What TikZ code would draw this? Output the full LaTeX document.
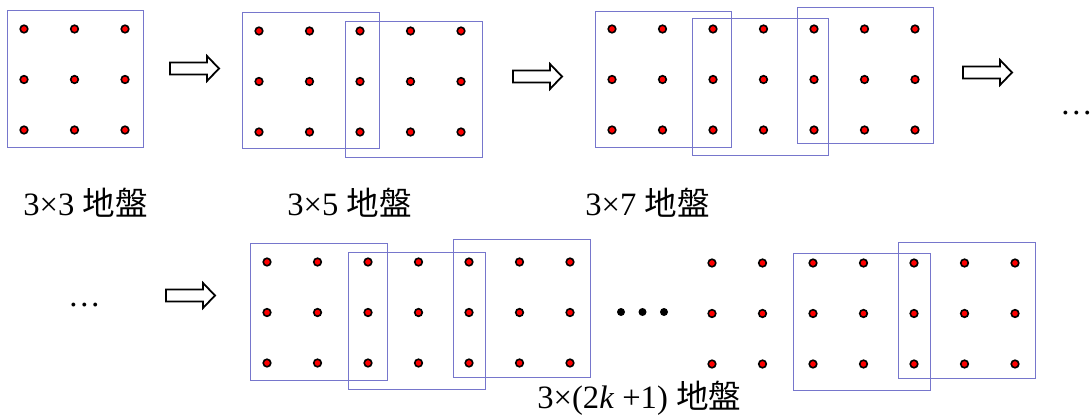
\documentclass[tikz,border=0pt]{standalone}
\usepackage{fontspec}
\setmainfont{Liberation Serif}
\newfontfamily\cjk{Noto Sans CJK TC}
\usetikzlibrary{positioning}

\begin{document}
\begin{tikzpicture}[
    x=0.5pt, y=-0.5pt,
    every node/.style={font=\fontsize{16.3}{19}\selectfont, inner sep=0pt},
  ]
    \definecolor{sitered}{HTML}{FF0000}
    \definecolor{winblue}{HTML}{7676CC}
    \tikzset{
      site/.style={fill=sitered, draw=black, line width=0.8pt},
      win/.style={draw=winblue, line width=0.45pt},
      blockarrow/.style={draw=black, fill=white, line width=0.9pt, line join=miter},
    }

    \newcommand{\sites}[3]{%
      \foreach \i in {0,...,#3}{
        \foreach \j in {0,1,2}{
          \filldraw[site] (#1+50.5*\i, #2+50.5*\j) circle[radius=1.9pt];
        }
      }
    }
    \newcommand{\fatarrow}[2]{%
      \draw[blockarrow] (#1,#2) ++(0,-6) -- ++(37,0) -- ++(0,-6.5) -- ++(12,12.5)
        -- ++(-12,12.5) -- ++(0,-6.5) -- ++(-37,0) -- cycle;
    }

    \useasboundingbox (0,0) rectangle (1090,417);

    % ============ top row: 3x3 ============
    \sites{24}{29}{2}
    \draw[win] (7,10) rectangle (143,147);
    \node[anchor=base west] (lab33) at (23,215) {3×3 {\cjk 地盤}};
    \fatarrow{170}{68.5}

    % ============ top row: 3x5 ============
    \sites{259}{31}{4}
    \draw[win] (242,12) rectangle (379,148);
    \draw[win] (345,21) rectangle (482,157);
    \node[anchor=base west] (lab35) at (287,215) {3×5 {\cjk 地盤}};
    \fatarrow{513}{76.5}

    % ============ top row: 3x7 ============
    \sites{612}{29}{6}
    \draw[win] (595,11) rectangle (731,147);
    \draw[win] (692,18) rectangle (828,155);
    \draw[win] (797,7) rectangle (933,143);
    \node[anchor=base west] (lab37) at (585,215) {3×7 {\cjk 地盤}};
    \fatarrow{963}{72.5}
    \node[anchor=base] (more1) at (1076.5,114) {…};

    % ============ bottom row: 3x(2k+1) ============
    \node[anchor=base] (more2) at (84.5,306) {…};
    \fatarrow{166}{295.5}
    \sites{267}{262}{6}
    \draw[win] (250,243) rectangle (387,380);
    \draw[win] (348,252) rectangle (485,389);
    \draw[win] (453,239) rectangle (590,377);
    \foreach \x in {621,642.5,664}
      \fill (\x,312) circle[radius=2pt];
    \sites{712}{263}{6}
    \draw[win] (793,253) rectangle (930,390);
    \draw[win] (898,242) rectangle (1035,378);
    \node[anchor=base west] (labk) at (537,408) {3×(2\textit{k} +1) {\cjk 地盤}};
  \end{tikzpicture}
\end{document}
